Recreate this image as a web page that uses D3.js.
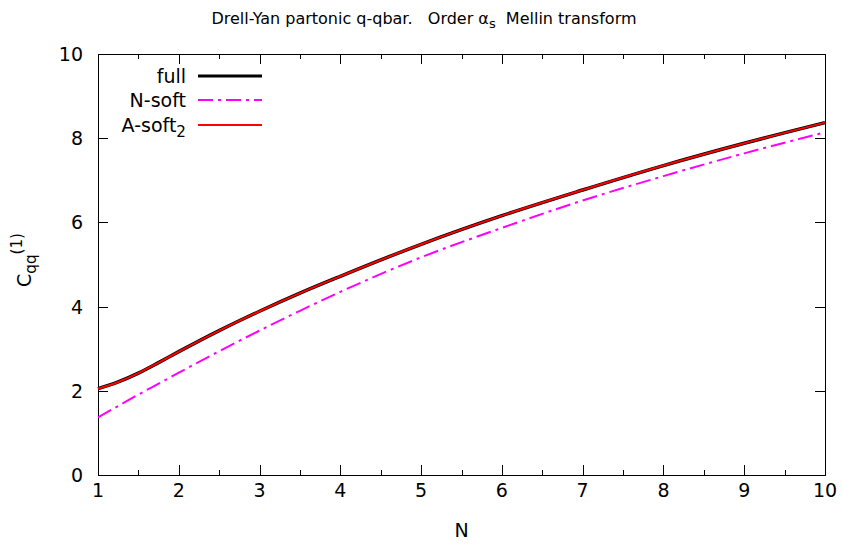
<!DOCTYPE html>
<html><head><meta charset="utf-8">
<script src="https://cdn.jsdelivr.net/npm/d3@7"></script>
<style>
body{margin:0;background:#fff;}
text{font-family:"DejaVu Sans",sans-serif;fill:#000;}
</style></head>
<body>
<svg id="c" width="843" height="544"></svg>
<script>
const nValues   = [1, 1.25, 1.5, 1.75, 2, 2.5, 3, 3.5, 4, 5, 6, 7, 8, 9, 10];
const fullVals  = [2.05, 2.21, 2.42, 2.67, 2.93, 3.43, 3.89, 4.32, 4.72, 5.48, 6.16, 6.77, 7.35, 7.88, 8.37];
const nSoftVals = [1.37, 1.64, 1.91, 2.17, 2.43, 2.94, 3.43, 3.90, 4.35, 5.17, 5.87, 6.52, 7.10, 7.64, 8.14];
const aSoftVals = [2.05, 2.21, 2.42, 2.67, 2.93, 3.43, 3.89, 4.32, 4.72, 5.48, 6.16, 6.77, 7.35, 7.88, 8.37];
const xTicks = [1,2,3,4,5,6,7,8,9,10];
const xMinorTicks = [1.5,2.5,3.5,4.5,5.5,6.5,7.5,8.5,9.5];
const yTicks = [0,2,4,6,8,10];
const seriesNames = ["full","N-soft","A-soft"];

const svg = d3.select("#c");
const L=98, R=825, T=54, B=475;
const x = d3.scaleLinear().domain([1,10]).range([L,R]);
const y = d3.scaleLinear().domain([0,10]).range([B,T]);
const FS = 19;

const g = svg.append("g").attr("shape-rendering","crispEdges");
function tickAxis(axisFn, scale, vals, size, transform){
  const a = g.append("g").attr("transform",transform)
    .call(axisFn(scale).tickValues(vals).tickSizeInner(size).tickSizeOuter(0).tickFormat(""));
  a.select(".domain").remove();
  a.selectAll("line").attr("stroke","#000");
  a.selectAll("text").remove();
}
tickAxis(d3.axisBottom, x, xTicks, -10, `translate(0,${B})`);
tickAxis(d3.axisBottom, x, xMinorTicks, -5, `translate(0,${B})`);
tickAxis(d3.axisTop, x, xTicks, -10, `translate(0,${T})`);
tickAxis(d3.axisTop, x, xMinorTicks, -5, `translate(0,${T})`);
tickAxis(d3.axisLeft, y, yTicks, -10, `translate(${L},0)`);
tickAxis(d3.axisRight, y, yTicks, -10, `translate(${R},0)`);

g.append("rect").attr("x",L).attr("y",T).attr("width",R-L).attr("height",B-T)
  .attr("fill","none").attr("stroke","#000").attr("stroke-width",1);

svg.append("g").selectAll("text").data(xTicks).join("text")
  .attr("x",d=>x(d)).attr("y",B+22).attr("text-anchor","middle")
  .attr("font-size",FS).text(d=>d);
svg.append("g").selectAll("text").data(yTicks).join("text")
  .attr("x",L-15).attr("y",d=>y(d)+7).attr("text-anchor","end")
  .attr("font-size",FS).text(d=>d);

svg.append("text").attr("x",(L+R)/2).attr("y",537).attr("text-anchor","middle")
  .attr("font-size",FS).text("N");
const yl = svg.append("text").attr("transform","translate(31,260) rotate(-90)")
  .attr("text-anchor","middle").attr("font-size",FS);
yl.append("tspan").text("C");
yl.append("tspan").attr("font-size",FS*0.8).attr("dy",5).text("qq");
yl.append("tspan").attr("font-size",FS*0.8).attr("dy",-14).text("(1)");

const tt = svg.append("text").attr("x",424).attr("y",24).attr("text-anchor","middle")
  .attr("font-size",16).attr("xml:space","preserve");
tt.append("tspan").text("Drell-Yan partonic q-qbar.   Order \u03b1");
tt.append("tspan").attr("font-size",13).attr("dy",4).text("s");
tt.append("tspan").attr("dy",-4).text("  Mellin transform");

const line = d3.line().x(d=>x(d[0])).y(d=>y(d[1])).curve(d3.curveMonotoneX);
const cg = svg.append("g");
const styles = [
  {vals:fullVals, color:"#000000", w:3.5, dash:null},
  {vals:nSoftVals, color:"#ff00ff", w:2, dash:"15,5,3,5"},
  {vals:aSoftVals, color:"#ff0000", w:2, dash:null}
];
styles.forEach(s=>{
  cg.append("path").datum(nValues.map((n,i)=>[n,s.vals[i]]))
    .attr("d",line).attr("fill","none").attr("stroke",s.color)
    .attr("stroke-width",s.w).attr("stroke-dasharray",s.dash);
});

const lg = svg.append("g");
const rows = [76,100,125];
seriesNames.forEach((nm,i)=>{
  const t = lg.append("text").attr("x",186).attr("y",rows[i]+7).attr("text-anchor","end").attr("font-size",FS);
  t.append("tspan").text(nm);
  if(i===2){ t.append("tspan").attr("font-size",FS*0.8).attr("dy",5).text("2"); }
  lg.append("line").attr("x1",198).attr("x2",262).attr("y1",rows[i]).attr("y2",rows[i])
    .attr("stroke",styles[i].color).attr("stroke-width",i===0?3:2)
    .attr("stroke-dasharray",styles[i].dash);
});
</script>
</body></html>
